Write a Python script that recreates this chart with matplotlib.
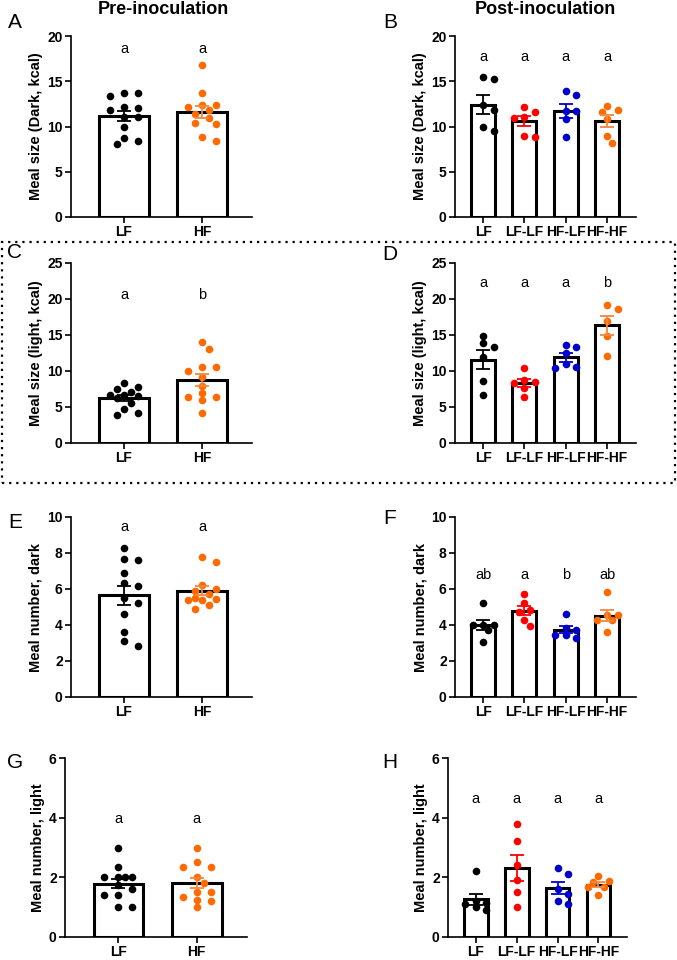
"""Meal size / meal number panels, pre- and post-inoculation (A-H)."""

import numpy as np
import matplotlib
matplotlib.use("Agg")
import matplotlib.pyplot as plt
from matplotlib.patches import Rectangle

plt.rcParams["font.family"] = ["Liberation Sans", "DejaVu Sans"]

W, H = 677, 960
BLACK, RED, BLUE, ORANGE = "#000000", "#ff0000", "#0000cc", "#ff6a00"

PRE_GROUPS = ["LF", "HF"]
POST_GROUPS = ["LF", "LF-LF", "HF-LF", "HF-HF"]
PRE_COLORS = [BLACK, ORANGE]
POST_COLORS = [BLACK, RED, BLUE, ORANGE]

# meal size, dark (kcal)
A_LF = [13.4, 13.65, 13.75, 12.0, 11.8, 12.1, 11.0, 11.1, 9.9, 8.1, 8.75, 8.4]
A_HF = [16.8, 13.75, 11.8, 12.2, 12.35, 12.35, 10.9, 11.4, 10.25, 10.4, 8.4, 8.85]
B_LF = [15.3, 15.5, 12.4, 11.8, 9.5, 9.9]
B_LFLF = [12.1, 11.6, 11.1, 10.9, 8.85, 9.0]
B_HFLF = [13.95, 13.5, 11.7, 11.7, 10.8, 8.85]
B_HFHF = [12.25, 11.6, 11.8, 10.8, 8.9, 8.2]

# meal size, light (kcal)
C_LF = [7.8, 8.3, 7.1, 7.5, 6.6, 6.6, 6.3, 5.6, 3.9, 4.7, 4.1, 6.5]
C_HF = [14.0, 13.1, 10.5, 10.0, 10.5, 9.1, 7.95, 6.9, 6.4, 6.4, 5.95, 4.1]
D_LF = [13.85, 14.9, 13.4, 11.9, 8.6, 6.65]
D_LFLF = [10.45, 8.5, 8.8, 8.35, 7.6, 6.4]
D_HFLF = [13.6, 13.3, 12.45, 10.4, 11.0, 10.6]
D_HFHF = [19.2, 18.6, 17.0, 14.8, 12.1]

# meal number, dark
E_LF = [8.3, 7.6, 7.65, 6.9, 6.35, 6.15, 5.5, 5.25, 4.6, 3.6, 2.85, 3.1]
E_HF = [7.8, 7.5, 6.25, 5.9, 6.0, 5.5, 5.4, 5.45, 5.7, 5.4, 4.9, 5.1]
F_LF = [5.2, 4.0, 4.0, 4.0, 3.75, 3.05]
F_LFLF = [5.75, 5.2, 4.85, 4.75, 4.3, 3.95]
F_HFLF = [4.6, 3.85, 3.3, 3.45, 3.45, 3.7]
F_HFHF = [5.85, 4.55, 4.55, 4.3, 4.3, 3.6]

# meal number, light
G_LF = [3.0, 2.33, 2.0, 2.0, 2.0, 2.0, 1.75, 1.6, 1.4, 1.4, 1.0, 1.0]
G_HF = [3.0, 2.5, 2.33, 2.33, 2.0, 1.8, 1.5, 1.5, 1.35, 1.25, 1.2, 1.0]
H_LF = [2.2, 1.2, 1.15, 1.1, 1.0, 0.9]
H_LFLF = [3.8, 3.23, 2.4, 1.9, 1.5, 1.0]
H_HFLF = [2.3, 2.12, 1.6, 1.45, 1.2, 1.1]
H_HFHF = [2.03, 1.88, 1.83, 1.69, 1.69, 1.41]

SIG_A, SIG_B = ["a", "a"], ["a", "a", "a", "a"]
SIG_C, SIG_D = ["a", "b"], ["a", "a", "a", "b"]
SIG_E, SIG_F = ["a", "a"], ["ab", "a", "b", "ab"]
SIG_G, SIG_H = ["a", "a"], ["a", "a", "a", "a"]

YLAB_DARK = "Meal size (Dark, kcal)"
YLAB_LIGHT = "Meal size (light, kcal)"
YLAB_NDARK = "Meal number, dark"
YLAB_NLIGHT = "Meal number, light"


def swarm_x(ax, x0, vals, d, spacing, maxoff):
    """Spread points sideways (pixel space) so they do not overlap much."""
    pix = ax.transData.transform(np.column_stack([np.full(len(vals), x0), vals]))
    xc, ys = pix[0, 0], pix[:, 1]
    cands = [0.0]
    k = 1
    while k * spacing / 2 <= maxoff + 0.01:
        cands += [k * spacing / 2, -k * spacing / 2]
        k += 1
    placed = []
    xs = np.zeros(len(vals))
    for i in np.argsort(-ys):
        best, best_score = 0.0, -1.0
        for off in cands:
            if placed:
                score = min(((off - px) / spacing) ** 2 + ((ys[i] - py) / d) ** 2
                            for px, py in placed)
            else:
                score = 9.0
            if score >= 1.0:
                best = off
                break
            if score > best_score:
                best, best_score = off, score
        placed.append((best, ys[i]))
        xs[i] = best
    inv = ax.transData.inverted()
    return inv.transform(np.column_stack([xc + xs, ys]))[:, 0]


def panel(box, groups, colors, data, sig, sig_y, ymax, ystep, ylabel, letter, letter_xy):
    left, right, top, bottom = box
    ax = fig.add_axes([left / W, 1 - bottom / H, (right - left) / W, (bottom - top) / H])
    n = len(groups)
    if n == 2:
        ax.set_xlim(-0.68, 1.64)
        bw, spacing, maxoff = 0.63, 14, 15
    else:
        ax.set_xlim(-0.68, 3.70)
        bw, spacing, maxoff = 0.58, 10.5, 10.5
    ax.set_ylim(0, ymax)

    for i, (vals, col) in enumerate(zip(data, colors)):
        vals = np.asarray(vals)
        m = vals.mean()
        sem = vals.std(ddof=1) / np.sqrt(len(vals))
        ax.bar(i, m, width=bw, color="white", edgecolor="black", linewidth=2.2, zorder=1)
        xs = swarm_x(ax, i, vals, 6.5, spacing, maxoff)
        ax.scatter(xs, vals, s=30, color=col, linewidths=0, zorder=3)
        ecol = col if col != ORANGE else "#f5883a"
        ax.errorbar(i, m, yerr=sem, color=ecol, capsize=5, capthick=1.3,
                    elinewidth=1.3, zorder=4)
        ax.text(i, sig_y, sig[i], ha="center", va="center", fontsize=10.5)

    ax.set_xticks(range(n))
    ax.set_xticklabels(groups, fontsize=10, fontweight="bold")
    ax.set_yticks(np.arange(0, ymax + 0.01, ystep))
    ax.set_yticklabels([f"{v:g}" for v in np.arange(0, ymax + 0.01, ystep)],
                       fontsize=10, fontweight="bold")
    ax.set_ylabel(ylabel, fontsize=10.5, fontweight="bold", labelpad=3)
    ax.tick_params(direction="out", length=4.5, width=1.2, pad=1.5)
    for s in ("top", "right"):
        ax.spines[s].set_visible(False)
    for s in ("left", "bottom"):
        ax.spines[s].set_linewidth(1.2)
    fig.text(letter_xy[0] / W, 1 - letter_xy[1] / H, letter, fontsize=15,
             ha="center", va="center")
    return ax


fig = plt.figure(figsize=(W / 100, H / 100), dpi=100)

panel((71, 252, 36, 217), PRE_GROUPS, PRE_COLORS, [A_LF, A_HF], SIG_A, 18.6, 20, 5,
      YLAB_DARK, "A", (15, 23))
panel((455, 636, 36, 217), POST_GROUPS, POST_COLORS, [B_LF, B_LFLF, B_HFLF, B_HFHF],
      SIG_B, 17.7, 20, 5, YLAB_DARK, "B", (390, 23))
panel((71, 252, 263, 443), PRE_GROUPS, PRE_COLORS, [C_LF, C_HF], SIG_C, 20.6, 25, 5,
      YLAB_LIGHT, "C", (15, 253))
panel((455, 636, 263, 443), POST_GROUPS, POST_COLORS, [D_LF, D_LFLF, D_HFLF, D_HFHF],
      SIG_D, 22.2, 25, 5, YLAB_LIGHT, "D", (390, 255))
panel((71, 252, 517, 697), PRE_GROUPS, PRE_COLORS, [E_LF, E_HF], SIG_E, 9.45, 10, 2,
      YLAB_NDARK, "E", (15, 523))
panel((455, 636, 517, 697), POST_GROUPS, POST_COLORS, [F_LF, F_LFLF, F_HFLF, F_HFHF],
      SIG_F, 6.77, 10, 2, YLAB_NDARK, "F", (390, 518))
panel((65, 247, 758, 937), PRE_GROUPS, PRE_COLORS, [G_LF, G_HF], SIG_G, 3.97, 6, 2,
      YLAB_NLIGHT, "G", (15, 762))
panel((448, 627, 758, 937), POST_GROUPS, POST_COLORS, [H_LF, H_LFLF, H_HFLF, H_HFHF],
      SIG_H, 4.64, 6, 2, YLAB_NLIGHT, "H", (390, 762))

fig.text(163 / W, 1 - 9 / H, "Pre-inoculation", fontsize=13, fontweight="bold",
         ha="center", va="center")
fig.text(545 / W, 1 - 9 / H, "Post-inoculation", fontsize=13, fontweight="bold",
         ha="center", va="center")

# dotted frame around the light-phase meal size panels
fig.add_artist(Rectangle((2 / W, 1 - 483 / H), 673 / W, 241 / H, transform=fig.transFigure,
                         fill=False, linestyle=(0, (1, 2.2)), linewidth=1.6, color="black"))

fig.savefig("out.png", dpi=100)
